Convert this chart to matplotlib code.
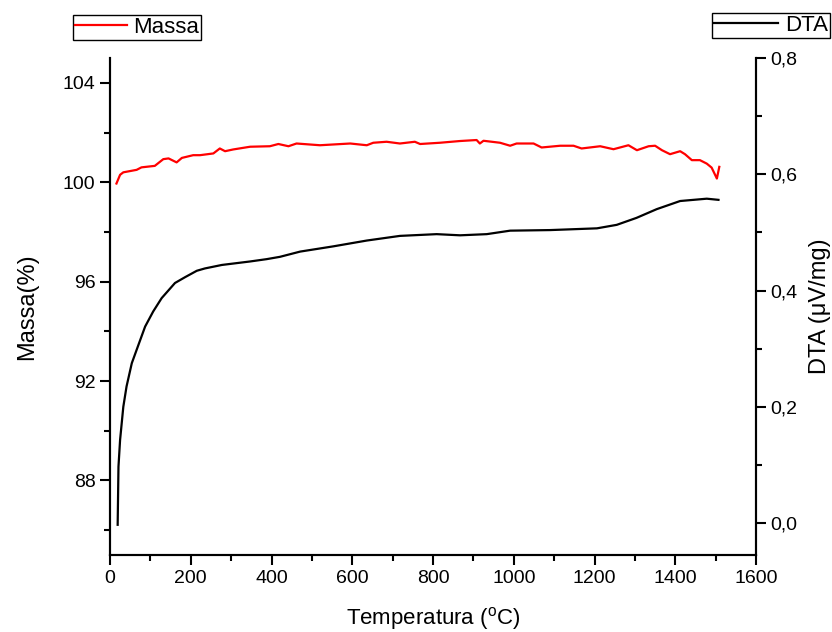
import matplotlib
matplotlib.use("Agg")
import matplotlib.pyplot as plt
from matplotlib.ticker import MultipleLocator, FuncFormatter

plt.rcParams['font.family'] = ['Liberation Sans', 'DejaVu Sans']
plt.rcParams['mathtext.fontset'] = 'custom'
plt.rcParams['mathtext.rm'] = 'Liberation Sans'

# Massa (%) vs temperature
temp_massa = [16, 25, 33, 66, 78, 111, 132, 145, 165, 178, 206, 223, 256, 272, 285,
              305, 347, 396, 417, 442, 462, 520, 595, 636, 652, 685, 718, 755, 768,
              817, 867, 908, 916, 925, 966, 991, 1007, 1049, 1069, 1115, 1148, 1168,
              1214, 1247, 1284, 1305, 1334, 1350, 1367, 1387, 1412, 1424, 1441, 1461,
              1478, 1490, 1503, 1509]
massa = [99.95, 100.3, 100.4, 100.5, 100.6, 100.66, 100.93, 100.96, 100.8, 100.98,
         101.09, 101.09, 101.16, 101.36, 101.25, 101.32, 101.43, 101.45, 101.54,
         101.45, 101.56, 101.49, 101.56, 101.49, 101.59, 101.63, 101.56, 101.63,
         101.54, 101.59, 101.66, 101.7, 101.56, 101.67, 101.59, 101.47, 101.56,
         101.56, 101.40, 101.47, 101.47, 101.36, 101.45, 101.33, 101.49, 101.29,
         101.45, 101.47, 101.29, 101.13, 101.25, 101.13, 100.89, 100.89, 100.75,
         100.59, 100.15, 100.62]

# DTA (uV/mg) vs temperature
temp_dta = [19, 21, 25, 33, 41, 54, 66, 87, 107, 128, 161, 186, 215, 235, 277, 347,
            388, 421, 471, 553, 636, 718, 809, 867, 933, 991, 1090, 1206, 1255, 1304,
            1354, 1412, 1478, 1507]
dta = [-0.003, 0.097, 0.143, 0.200, 0.235, 0.275, 0.298, 0.338, 0.364, 0.387, 0.413,
       0.423, 0.434, 0.438, 0.444, 0.450, 0.454, 0.458, 0.467, 0.476, 0.486, 0.494,
       0.497, 0.495, 0.497, 0.503, 0.504, 0.507, 0.513, 0.525, 0.540, 0.554, 0.558,
       0.556]

fig = plt.figure(figsize=(8.32, 6.32), dpi=100)
ax = fig.add_axes([0.1322, 0.1218, 0.7765, 0.7864])
ax2 = ax.twinx()

l1, = ax.plot(temp_massa, massa, color='#ff0000', lw=1.6, label='Massa')
l2, = ax2.plot(temp_dta, dta, color='black', lw=1.6, label='DTA')

ax.set_xlim(0, 1600)
ax.set_ylim(85, 105)
ax2.set_ylim(-0.055, 0.8)

ax.xaxis.set_major_locator(MultipleLocator(200))
ax.xaxis.set_minor_locator(MultipleLocator(100))
ax.yaxis.set_major_locator(MultipleLocator(4))
ax.yaxis.set_minor_locator(MultipleLocator(2))
ax2.yaxis.set_major_locator(MultipleLocator(0.2))
ax2.yaxis.set_minor_locator(MultipleLocator(0.1))
ax2.yaxis.set_major_formatter(FuncFormatter(lambda v, p: f"{v:.1f}".replace('.', ',')))

for a in (ax, ax2):
    a.spines['top'].set_visible(False)
    for s in a.spines.values():
        s.set_linewidth(1.5)
    a.tick_params(which='major', direction='out', length=7, width=1.5, labelsize=14)
    a.tick_params(which='minor', direction='out', length=4, width=1.5)

ax.set_xlabel('Temperatura ($^{\\mathrm{o}}$C)', fontsize=16, labelpad=13)
ax.set_ylabel('Massa(%)', fontsize=17, labelpad=18)
ax2.set_ylabel('DTA (\u03bcV/mg)', fontsize=17, labelpad=8)

leg_kw = dict(fontsize=16, frameon=True, fancybox=False, edgecolor='black',
              framealpha=1, handletextpad=0.3, borderpad=0.1, borderaxespad=0)
leg1 = fig.legend(handles=[l1], loc='upper left', bbox_to_anchor=(0.088, 0.977),
                  handlelength=2.3, **leg_kw)
leg2 = fig.legend(handles=[l2], loc='upper right', bbox_to_anchor=(0.998, 0.980),
                  handlelength=2.9, **leg_kw)
for lg in (leg1, leg2):
    lg.get_frame().set_linewidth(1.0)

fig.savefig('out.png', dpi=100)
